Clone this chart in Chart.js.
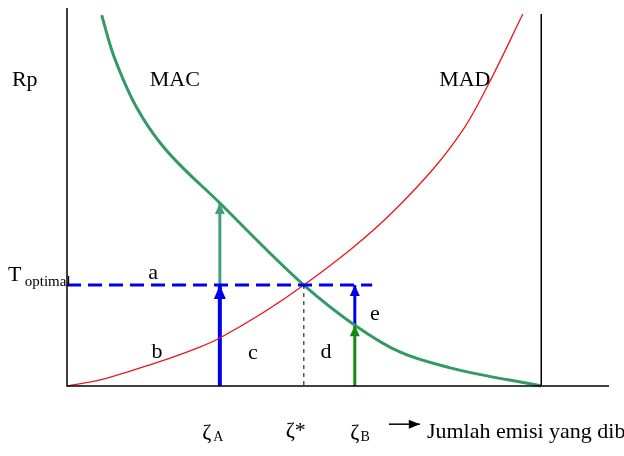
<!DOCTYPE html>
<html>
<head>
<meta charset="utf-8">
<script src="https://cdn.jsdelivr.net/npm/chart.js@4/dist/chart.umd.min.js"></script>
<style>
  body { margin: 0; background: #fff; }
</style>
</head>
<body>
<canvas id="chart" width="624" height="456"></canvas>
<script>
// curve points (x: emisi, y: Rp, both 0..100)
const macX = [6.4, 8.25, 10.4, 12.8, 17.2, 28.2, 43.7, 53.1, 61.4, 70.7, 87.5];
const macY = [98.1, 88.9, 81.0, 73.8, 64.3, 48.4, 26.7, 16.1, 9.0, 4.8, 0];
const madX = [0, 6.1, 15.3, 24.5, 28.2, 43.7, 61.4, 73.4, 78.0, 84.1];
const madY = [0, 1.6, 5.6, 10.3, 12.7, 26.7, 47.9, 68.5, 80.5, 98.4];

const tOptimal = 26.7;
const zetaA = 28.2, zetaStar = 43.7, zetaB = 53.1;
const macAtA = 48.4, macAtB = 16.1;
const dashEnd = 56.3;
const xEnd = 87.5, xTop = 98.4;

// text labels [text, x, y, size, align]
const labels = [
  ["Rp", -7.8, 81.0, 22, "center"],
  ["MAC", 19.9, 81.0, 22, "center"],
  ["MAD", 73.4, 81.0, 22, "center"],
  ["T", -10.9, 29.4, 22, "left"],
  ["optimal", -7.8, 27.6, 15, "left"],
  ["a", 15.9, 29.9, 22, "center"],
  ["b", 16.6, 9.0, 22, "center"],
  ["c", 34.3, 8.7, 22, "center"],
  ["d", 47.8, 9.0, 22, "center"],
  ["e", 56.8, 19.0, 22, "center"],
  ["ζ", 25.8, -12.6, 22, "center"],
  ["A", 27.9, -13.6, 14, "center"],
  ["ζ*", 42.2, -12.0, 22, "center"],
  ["ζ", 53.1, -12.6, 22, "center"],
  ["B", 55.0, -13.6, 14, "center"],
  ["Jumlah emisi yang dibuang", 66.4, -12.2, 22, "left"]
];

const pts = (xs, ys) => xs.map((x, i) => ({ x: x, y: ys[i] }));

function line(data, color, width, extra) {
  return Object.assign({
    data: data, showLine: true, borderColor: color, backgroundColor: color,
    borderWidth: width, pointRadius: 0, clip: false
  }, extra || {});
}

// arrow heads drawn at the end of datasets that have arrowHead: [length, halfWidth]
const arrowPlugin = {
  id: "arrows",
  afterDatasetsDraw(chart) {
    const ctx = chart.ctx;
    chart.data.datasets.forEach((ds, i) => {
      if (!ds.arrowHead) return;
      const pts = chart.getDatasetMeta(i).data;
      const p1 = pts[pts.length - 2], p2 = pts[pts.length - 1];
      const a = Math.atan2(p2.y - p1.y, p2.x - p1.x);
      const [len, hw] = ds.arrowHead;
      ctx.save();
      ctx.translate(p2.x, p2.y);
      ctx.rotate(a);
      ctx.fillStyle = ds.borderColor;
      ctx.beginPath();
      ctx.moveTo(0, 0);
      ctx.lineTo(-len, -hw);
      ctx.lineTo(-len, hw);
      ctx.closePath();
      ctx.fill();
      ctx.restore();
    });
  }
};

const textPlugin = {
  id: "texts",
  afterDraw(chart) {
    const ctx = chart.ctx;
    const xs = chart.scales.x, ys = chart.scales.y;
    ctx.save();
    ctx.fillStyle = "#000";
    ctx.textBaseline = "middle";
    labels.forEach(([t, x, y, size, align]) => {
      ctx.font = size + "px 'Liberation Serif', 'Times New Roman', serif";
      ctx.textAlign = align;
      ctx.fillText(t, xs.getPixelForValue(x), ys.getPixelForValue(y));
    });
    ctx.restore();
  }
};

new Chart(document.getElementById("chart"), {
  type: "scatter",
  data: {
    datasets: [
      // axes and right boundary
      line([{ x: 0, y: 100 }, { x: 0, y: 0 }, { x: 100, y: 0 }], "#000", 1.5),
      line([{ x: xEnd, y: xTop }, { x: xEnd, y: 0 }], "#000", 1.5),
      // T optimal and zeta* guides
      line([{ x: 0, y: tOptimal }, { x: dashEnd, y: tOptimal }], "#0000ee", 3, { borderDash: [14, 7] }),
      line([{ x: zetaStar, y: tOptimal }, { x: zetaStar, y: 0 }], "#000", 1, { borderDash: [4, 4] }),
      // curves
      line(pts(madX, madY), "#e8181c", 1.3, { cubicInterpolationMode: "monotone" }),
      line(pts(macX, macY), "#339966", 3, { cubicInterpolationMode: "monotone" }),
      // arrows
      line([{ x: zetaA, y: 0 }, { x: zetaA, y: tOptimal }], "#0000ee", 4, { arrowHead: [14, 6] }),
      line([{ x: zetaA, y: tOptimal }, { x: zetaA, y: macAtA }], "#44a07a", 3, { arrowHead: [11, 5] }),
      line([{ x: zetaB, y: 0 }, { x: zetaB, y: macAtB }], "#108a10", 3, { arrowHead: [11, 5] }),
      line([{ x: zetaB, y: macAtB }, { x: zetaB, y: tOptimal }], "#0000ee", 3, { arrowHead: [11, 5] }),
      line([{ x: 59.4, y: -10.1 }, { x: 65.1, y: -10.1 }], "#000", 1.5, { arrowHead: [11, 4.5] })
    ]
  },
  options: {
    responsive: false,
    animation: false,
    layout: { padding: { left: 67, right: 15, top: 8, bottom: 70 } },
    plugins: { legend: { display: false }, tooltip: { enabled: false } },
    scales: {
      x: { type: "linear", min: 0, max: 100, display: false },
      y: { type: "linear", min: 0, max: 100, display: false }
    }
  },
  plugins: [arrowPlugin, textPlugin]
});
</script>
</body>
</html>
